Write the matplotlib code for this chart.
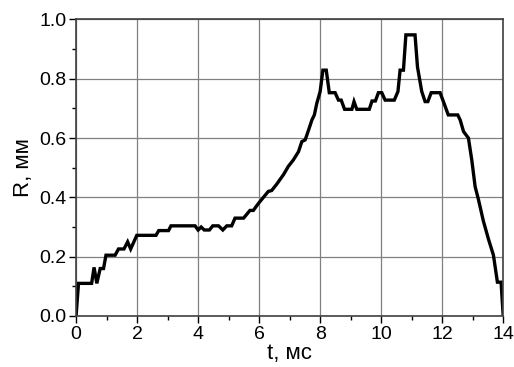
import matplotlib
matplotlib.use('Agg')
import matplotlib.pyplot as plt
from matplotlib.ticker import MultipleLocator

plt.rcParams['font.family'] = ['Liberation Sans', 'DejaVu Sans']

# time, ms
t = [0.0, 0.08, 0.51, 0.59, 0.68, 0.79, 0.9, 0.98, 1.28, 1.39, 1.57, 1.69, 1.79,
     1.99, 2.62, 2.71, 3.03, 3.11, 3.9, 4.0, 4.1, 4.2, 4.37, 4.48, 4.67, 4.81,
     4.94, 5.1, 5.21, 5.49, 5.7, 5.81, 5.98, 6.14, 6.3, 6.41, 6.58, 6.8, 6.96,
     7.12, 7.29, 7.4, 7.51, 7.62, 7.73, 7.81, 7.89, 8.0, 8.09, 8.2, 8.3, 8.49,
     8.6, 8.69, 8.8, 9.04, 9.11, 9.2, 9.61, 9.7, 9.81, 9.91, 10.02, 10.13,
     10.43, 10.55, 10.62, 10.73, 10.81, 11.11, 11.19, 11.33, 11.44, 11.53,
     11.64, 11.93, 12.04, 12.2, 12.51, 12.59, 12.7, 12.86, 12.97, 13.08,
     13.19, 13.35, 13.52, 13.68, 13.81, 13.93, 14.0]
# radius, mm
R = [0.0, 0.11, 0.11, 0.164, 0.11, 0.16, 0.16, 0.205, 0.205, 0.226, 0.226, 0.25,
     0.226, 0.272, 0.272, 0.288, 0.288, 0.304, 0.304, 0.29, 0.30, 0.29, 0.29,
     0.304, 0.304, 0.29, 0.304, 0.304, 0.33, 0.33, 0.356, 0.356, 0.38, 0.40,
     0.42, 0.423, 0.445, 0.477, 0.505, 0.526, 0.554, 0.588, 0.594, 0.627,
     0.661, 0.678, 0.717, 0.757, 0.829, 0.829, 0.753, 0.753, 0.728, 0.728,
     0.697, 0.697, 0.723, 0.697, 0.697, 0.725, 0.725, 0.753, 0.753, 0.728,
     0.728, 0.757, 0.829, 0.829, 0.948, 0.948, 0.84, 0.757, 0.723, 0.723,
     0.753, 0.753, 0.723, 0.678, 0.678, 0.661, 0.622, 0.6, 0.526, 0.436,
     0.392, 0.32, 0.258, 0.205, 0.114, 0.114, 0.0]

fig = plt.figure(figsize=(5.14, 3.67), dpi=100)
ax = fig.add_axes([0.148, 0.139, 0.831, 0.808])

ax.plot(t, R, color='black', lw=2.4, solid_joinstyle='miter')

ax.set_xlim(0, 14)
ax.set_ylim(0, 1.0)
ax.xaxis.set_major_locator(MultipleLocator(2))
ax.xaxis.set_minor_locator(MultipleLocator(1))
ax.yaxis.set_major_locator(MultipleLocator(0.2))
ax.yaxis.set_minor_locator(MultipleLocator(0.1))
ax.yaxis.set_major_formatter(matplotlib.ticker.FormatStrFormatter('%.1f'))

ax.grid(True, which='major', color='#808080', lw=0.9)
ax.tick_params(which='major', direction='out', length=5, width=1, labelsize=14, pad=2)
ax.tick_params(which='minor', direction='out', length=3, width=1)
for s in ax.spines.values():
    s.set_color('#404040')
    s.set_linewidth(1.2)

ax.set_xlabel('t, мс', fontsize=16, labelpad=0)
ax.set_ylabel('R, мм', fontsize=16, labelpad=4)

fig.savefig('out.png', dpi=100)
